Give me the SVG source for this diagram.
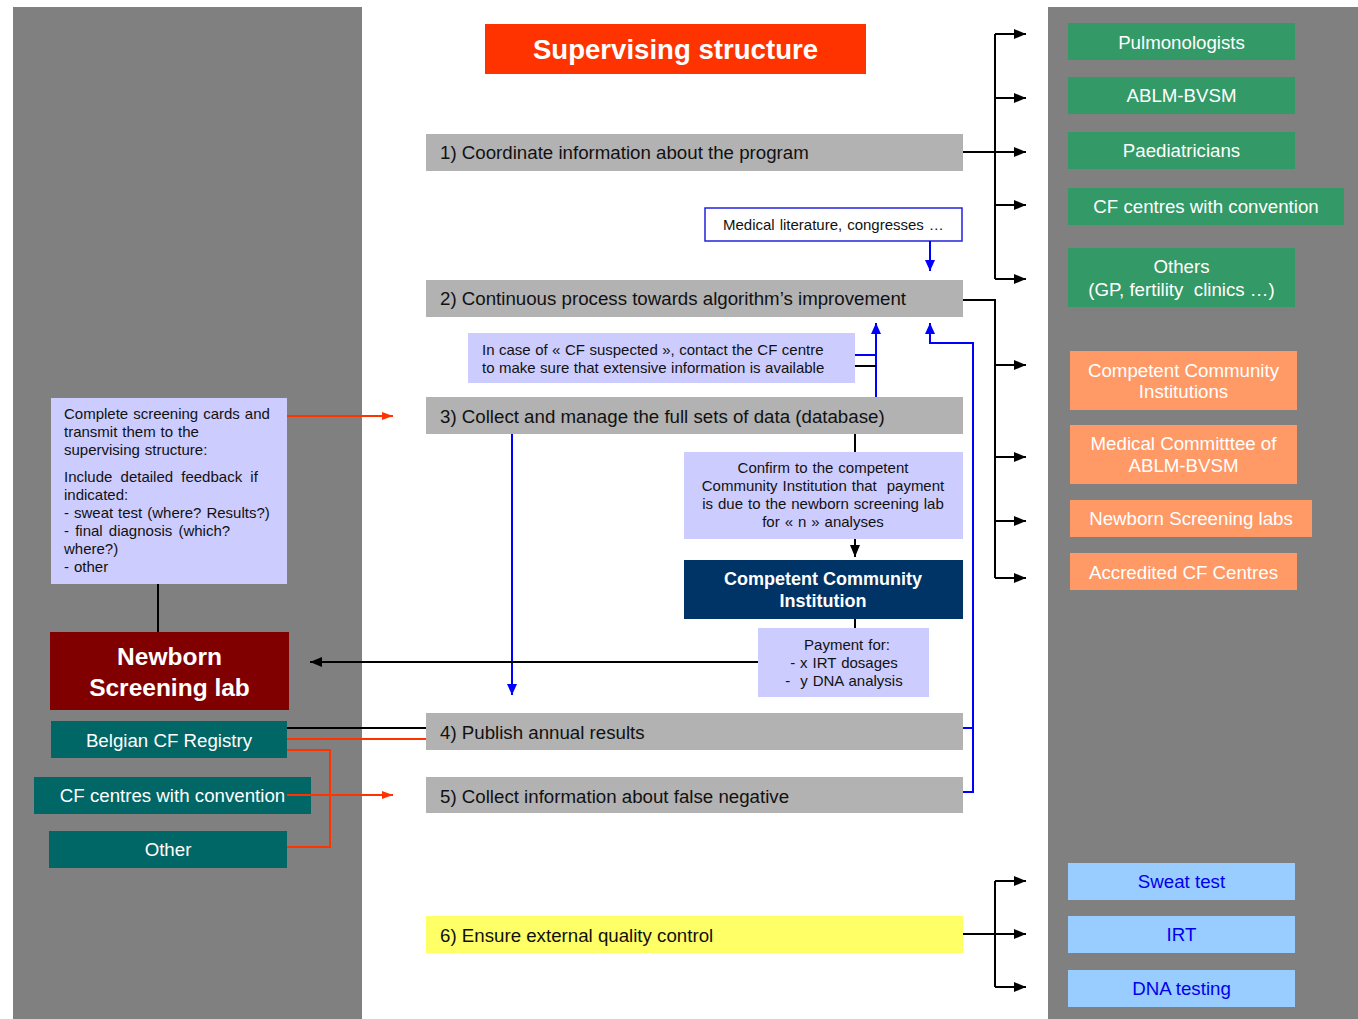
<svg xmlns="http://www.w3.org/2000/svg" width="1358" height="1019" viewBox="0 0 1358 1019">
  <style>
    text { font-family: "Liberation Sans", Arial, sans-serif; }
    .panel { fill: #808080; }
    .step { fill: #B2B2B2; }
    .stepText { font-size: 18.7px; fill: #111; }
    .note { fill: #CCCCFF; }
    .small { font-size: 15px; fill: #111; word-spacing: 0.8px; }
    .green { fill: #339966; }
    .orange { fill: #FF9966; }
    .sky { fill: #99CCFF; }
    .teal { fill: #006666; }
    .lbl { font-size: 18.7px; fill: #fff; text-anchor: middle; }
    .blueLbl { font-size: 18.7px; fill: #0000EE; text-anchor: middle; }
    .k { stroke: #000; stroke-width: 2; fill: none; }
    .b { stroke: #0000FF; stroke-width: 2; fill: none; }
    .r { stroke: #FF3300; stroke-width: 2; fill: none; }
  </style>
  <defs>
    <marker id="ak" markerUnits="userSpaceOnUse" markerWidth="13" markerHeight="12" refX="12" refY="6" orient="auto">
      <path d="M0,1 L12,6 L0,11 Z" fill="#000"/>
    </marker>
    <marker id="ab" markerUnits="userSpaceOnUse" markerWidth="12" markerHeight="12" refX="11" refY="6" orient="auto">
      <path d="M0,1 L11,6 L0,11 Z" fill="#0000FF"/>
    </marker>
    <marker id="ar" markerUnits="userSpaceOnUse" markerWidth="12" markerHeight="12" refX="11" refY="6" orient="auto">
      <path d="M0,2 L11,6 L0,10 Z" fill="#FF3300"/>
    </marker>
  </defs>

  <!-- side panels -->
  <rect class="panel" x="13" y="7" width="349" height="1012"/>
  <rect class="panel" x="1048" y="7" width="310" height="1012"/>

  <!-- title -->
  <g id="title">
    <rect x="485" y="24" width="381" height="50" fill="#FF3300"/>
    <text x="675.5" y="59" font-size="27.6" font-weight="bold" fill="#fff" text-anchor="middle">Supervising structure</text>
  </g>

  <!-- supervising tasks -->
  <g id="step1"><rect class="step" x="426" y="134" width="537" height="37"/><text class="stepText" x="440" y="159">1) Coordinate information about the program</text></g>
  <g id="literature"><rect x="705" y="208" width="257" height="33" fill="#fff" stroke="#2222DD" stroke-width="1.5"/><text class="small" x="723" y="230">Medical literature, congresses …</text></g>
  <g id="step2"><rect class="step" x="426" y="280" width="537" height="37"/><text class="stepText" x="440" y="305">2) Continuous process towards algorithm’s improvement</text></g>
  <g id="cfSuspected"><rect class="note" x="468" y="333" width="387" height="50"/>
    <text class="small" x="482" y="355" style="word-spacing:0.3px">In case of « CF suspected », contact the CF centre</text>
    <text class="small" x="482" y="373" style="word-spacing:0.3px">to make sure that extensive information is available</text></g>
  <g id="step3"><rect class="step" x="426" y="397" width="537" height="37"/><text class="stepText" x="440" y="423">3) Collect and manage the full sets of data (database)</text></g>
  <g id="confirm"><rect class="note" x="684" y="452" width="279" height="87"/>
    <text class="small" text-anchor="middle" x="823" y="473">Confirm to the competent</text>
    <text class="small" text-anchor="middle" x="823" y="491" xml:space="preserve">Community Institution that  payment</text>
    <text class="small" text-anchor="middle" x="823" y="509">is due to the newborn screening lab</text>
    <text class="small" text-anchor="middle" x="823" y="527">for « n » analyses</text></g>
  <g id="cci"><rect x="684" y="560" width="279" height="59" fill="#003366"/>
    <text x="823" y="585" font-size="18" font-weight="bold" fill="#fff" text-anchor="middle">Competent Community</text>
    <text x="823" y="607" font-size="18" font-weight="bold" fill="#fff" text-anchor="middle">Institution</text></g>
  <g id="payment"><rect class="note" x="758" y="628" width="171" height="69"/>
    <text class="small" text-anchor="middle" x="847" y="650">Payment for:</text>
    <text class="small" text-anchor="middle" x="844" y="668">- x IRT dosages</text>
    <text class="small" text-anchor="middle" x="844" y="686" xml:space="preserve">-  y DNA analysis</text></g>
  <g id="step4"><rect class="step" x="426" y="713" width="537" height="37"/><text class="stepText" x="440" y="739">4) Publish annual results</text></g>
  <g id="step5"><rect class="step" x="426" y="777" width="537" height="36"/><text class="stepText" x="440" y="803">5) Collect information about false negative</text></g>
  <g id="step6"><rect x="426" y="916" width="537" height="37" fill="#FFFF66"/><text class="stepText" x="440" y="942">6) Ensure external quality control</text></g>

  <!-- left side -->
  <g id="cards"><rect class="note" x="51" y="398" width="236" height="186"/>
    <text class="small" x="64" y="419">Complete screening cards and</text>
    <text class="small" x="64" y="437">transmit them to the</text>
    <text class="small" x="64" y="455">supervising structure:</text>
    <text class="small" x="64" y="482" style="word-spacing:4px">Include detailed feedback if</text>
    <text class="small" x="64" y="500">indicated:</text>
    <text class="small" x="64" y="518">- sweat test (where? Results?)</text>
    <text class="small" x="64" y="536" style="word-spacing:2px">- final diagnosis (which?</text>
    <text class="small" x="64" y="554">where?)</text>
    <text class="small" x="64" y="572">- other</text></g>
  <g id="lab"><rect x="50" y="632" width="239" height="78" fill="#800000"/>
    <text x="169.5" y="665" font-size="24.5" font-weight="bold" fill="#fff" text-anchor="middle">Newborn</text>
    <text x="169.5" y="696" font-size="24.5" font-weight="bold" fill="#fff" text-anchor="middle">Screening lab</text></g>
  <g id="registry"><rect class="teal" x="51" y="721" width="236" height="37"/><text class="lbl" x="169" y="747">Belgian CF Registry</text></g>
  <g id="cfConvLeft"><rect class="teal" x="34" y="777" width="277" height="37"/><text class="lbl" x="172.5" y="802">CF centres with convention</text></g>
  <g id="other"><rect class="teal" x="49" y="831" width="238" height="37"/><text class="lbl" x="168" y="856">Other</text></g>

  <!-- right side: audiences -->
  <g id="pulmo"><rect class="green" x="1068" y="23" width="227" height="37"/><text class="lbl" x="1181.5" y="49">Pulmonologists</text></g>
  <g id="ablm"><rect class="green" x="1068" y="77" width="227" height="37"/><text class="lbl" x="1181.5" y="102">ABLM-BVSM</text></g>
  <g id="paed"><rect class="green" x="1068" y="132" width="227" height="37"/><text class="lbl" x="1181.5" y="157">Paediatricians</text></g>
  <g id="cfConvRight"><rect class="green" x="1068" y="188" width="276" height="37"/><text class="lbl" x="1206" y="213">CF centres with convention</text></g>
  <g id="others"><rect class="green" x="1068" y="248" width="227" height="59"/>
    <text class="lbl" x="1181.5" y="273">Others</text>
    <text class="lbl" x="1181.5" y="296" xml:space="preserve">(GP, fertility  clinics …)</text></g>

  <g id="cciList"><rect class="orange" x="1070" y="351" width="227" height="59"/>
    <text class="lbl" x="1183.5" y="377">Competent Community</text>
    <text class="lbl" x="1183.5" y="398">Institutions</text></g>
  <g id="medComm"><rect class="orange" x="1070" y="425" width="227" height="59"/>
    <text class="lbl" x="1183.5" y="450">Medical Committtee of</text>
    <text class="lbl" x="1183.5" y="472">ABLM-BVSM</text></g>
  <g id="nsLabs"><rect class="orange" x="1070" y="500" width="242" height="37"/><text class="lbl" x="1191" y="525">Newborn Screening labs</text></g>
  <g id="accredited"><rect class="orange" x="1070" y="553" width="227" height="37"/><text class="lbl" x="1183.5" y="579">Accredited CF Centres</text></g>

  <g id="sweat"><rect class="sky" x="1068" y="863" width="227" height="37"/><text class="blueLbl" x="1181.5" y="888">Sweat test</text></g>
  <g id="irt"><rect class="sky" x="1068" y="916" width="227" height="37"/><text class="blueLbl" x="1181.5" y="941">IRT</text></g>
  <g id="dna"><rect class="sky" x="1068" y="970" width="227" height="37"/><text class="blueLbl" x="1181.5" y="995">DNA testing</text></g>

  <!-- connectors -->
  <g id="connectors">
    <!-- step 1 fan-out -->
    <path class="k" d="M963,152 H995"/>
    <path class="k" d="M995,34 V279"/>
    <path class="k" d="M995,34 H1026" marker-end="url(#ak)"/>
    <path class="k" d="M995,98 H1026" marker-end="url(#ak)"/>
    <path class="k" d="M995,152 H1026" marker-end="url(#ak)"/>
    <path class="k" d="M995,205 H1026" marker-end="url(#ak)"/>
    <path class="k" d="M995,279 H1026" marker-end="url(#ak)"/>
    <!-- step 2 fan-out -->
    <path class="k" d="M963,300 H995 V578"/>
    <path class="k" d="M995,365 H1026" marker-end="url(#ak)"/>
    <path class="k" d="M995,457 H1026" marker-end="url(#ak)"/>
    <path class="k" d="M995,521 H1026" marker-end="url(#ak)"/>
    <path class="k" d="M995,578 H1026" marker-end="url(#ak)"/>
    <!-- step 6 fan-out -->
    <path class="k" d="M963,934 H995"/>
    <path class="k" d="M995,881 V987"/>
    <path class="k" d="M995,881 H1026" marker-end="url(#ak)"/>
    <path class="k" d="M995,934 H1026" marker-end="url(#ak)"/>
    <path class="k" d="M995,987 H1026" marker-end="url(#ak)"/>

    <!-- literature feeds step 2 -->
    <path class="b" d="M930,241 V271" marker-end="url(#ab)"/>
    <!-- step 3 feeds step 2 -->
    <path class="b" d="M876,397 V323" marker-end="url(#ab)"/>
    <path class="b" d="M855,355 H876"/>
    <path class="k" d="M855,366 H876"/>
    <!-- steps 4 and 5 feed step 2 -->
    <path class="b" d="M963,792 H973 V343 H930 V323" marker-end="url(#ab)"/>
    <path class="b" d="M963,728 H973"/>
    <!-- step 3 to step 4 -->
    <path class="b" d="M512,434 V695" marker-end="url(#ab)"/>

    <!-- payment chain -->
    <path class="k" d="M855,434 V452"/>
    <path class="k" d="M855,539 V557" marker-end="url(#ak)"/>
    <path class="k" d="M855,619 V628"/>
    <path class="k" d="M758,662 H310" marker-end="url(#ak)"/>

    <!-- lab side -->
    <path class="k" d="M158,584 V632"/>
    <path class="r" d="M287,416 H393" marker-end="url(#ar)"/>
    <path class="k" d="M287,728 H426"/>
    <path class="r" d="M287,739 H426"/>
    <path class="r" d="M287,750 H330 V847 H287"/>
    <path class="r" d="M287,795 H393" marker-end="url(#ar)"/>
  </g>
</svg>
